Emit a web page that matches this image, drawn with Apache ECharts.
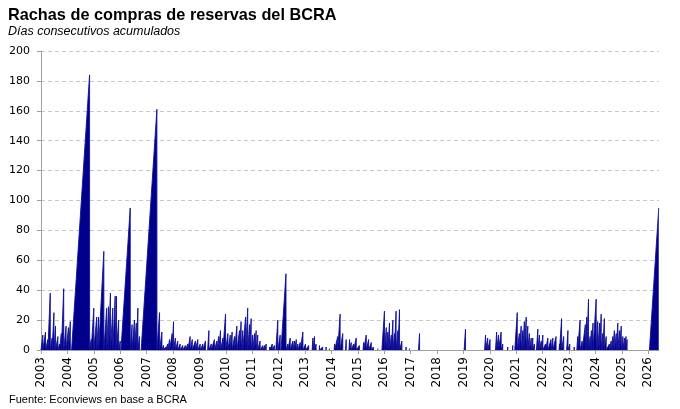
<!DOCTYPE html>
<html>
<head>
<meta charset="utf-8">
<title>Rachas de compras de reservas del BCRA</title>
<script src="https://cdn.jsdelivr.net/npm/echarts@6/dist/echarts.min.js"></script>
<style>
    html, body { margin: 0; padding: 0; background: #fff; }
    #grafico { width: 680px; height: 409px; }
</style>
</head>
<body>
<div id="grafico"></div>
<script>
// Fin de cada racha (año decimal) y días consecutivos acumulados al cortarse
var finRacha = [
    2003.07, 2003.17, 2003.26, 2003.35, 2003.42, 2003.49, 2003.55, 2003.64, 2003.70, 2003.77,
    2003.86, 2003.95, 2004.04, 2004.11, 2004.84, 2004.90, 2005.00, 2005.11, 2005.18, 2005.38,
    2005.49, 2005.56, 2005.63, 2005.72, 2005.81, 2005.86, 2005.94, 2006.00, 2006.38, 2006.45,
    2006.54, 2006.61, 2006.67, 2006.73, 2007.39, 2007.49, 2007.58, 2007.64, 2007.72, 2007.80,
    2007.87, 2007.97, 2008.02, 2008.09, 2008.18, 2008.27, 2008.37, 2008.47, 2008.56, 2008.65,
    2008.73, 2008.85, 2008.94, 2009.03, 2009.13, 2009.23, 2009.36, 2009.45, 2009.57, 2009.66,
    2009.73, 2009.80, 2009.89, 2009.99, 2010.08, 2010.17, 2010.24, 2010.33, 2010.42, 2010.52,
    2010.58, 2010.64, 2010.75, 2010.83, 2010.90, 2010.96, 2011.02, 2011.09, 2011.15, 2011.21,
    2011.30, 2011.40, 2011.47, 2011.53, 2011.66, 2011.76, 2011.84, 2011.97, 2012.06, 2012.28,
    2012.35, 2012.44, 2012.54, 2012.60, 2012.67, 2012.73, 2012.82, 2012.92, 2013.02, 2013.14,
    2013.30, 2013.36, 2013.42, 2013.55, 2013.67, 2013.80, 2013.93, 2014.12, 2014.24, 2014.33,
    2014.43, 2014.56, 2014.69, 2014.75, 2014.84, 2014.94, 2015.06, 2015.22, 2015.32, 2015.41,
    2015.51, 2015.59, 2015.76, 2016.01, 2016.08, 2016.14, 2016.20, 2016.27, 2016.33, 2016.39,
    2016.45, 2016.52, 2016.58, 2016.67, 2016.83, 2016.96, 2017.34, 2019.08, 2019.84, 2019.92,
    2020.01, 2020.26, 2020.33, 2020.43, 2020.49, 2020.68, 2020.87, 2021.04, 2021.12, 2021.19,
    2021.25, 2021.31, 2021.38, 2021.44, 2021.50, 2021.57, 2021.63, 2021.69, 2021.82, 2021.88,
    2021.95, 2022.01, 2022.11, 2022.20, 2022.32, 2022.39, 2022.51, 2022.64, 2022.72, 2022.80,
    2022.96, 2023.03, 2023.20, 2023.33, 2023.42, 2023.50, 2023.62, 2023.67, 2023.74, 2023.80,
    2023.85, 2023.91, 2024.03, 2024.09, 2024.16, 2024.22, 2024.28, 2024.34, 2024.41, 2024.53,
    2024.60, 2024.66, 2024.72, 2024.79, 2024.85, 2024.91, 2024.98, 2025.04, 2025.10, 2025.16,
    2025.20, 2026.40
];
var diasRacha = [
    10, 12, 7, 38, 8, 25, 16, 9, 4, 11,
    41, 16, 15, 19, 184, 7, 28, 22, 22, 66,
    28, 29, 38, 28, 36, 36, 20, 6, 95, 17,
    20, 18, 28, 9, 161, 25, 12, 3, 2, 4,
    7, 11, 19, 8, 6, 4, 3, 3, 4, 9,
    7, 6, 7, 4, 4, 6, 13, 4, 7, 6,
    9, 13, 8, 24, 11, 10, 12, 9, 16, 13,
    19, 13, 22, 28, 17, 21, 10, 11, 13, 10,
    6, 3, 3, 4, 2, 4, 3, 20, 10, 51,
    4, 8, 6, 6, 7, 4, 5, 12, 4, 3,
    8, 9, 4, 3, 2, 2, 1, 4, 9, 24,
    11, 7, 7, 5, 4, 8, 3, 5, 10, 7,
    5, 2, 1, 26, 15, 12, 18, 10, 20, 11,
    26, 13, 27, 6, 2, 1, 11, 14, 10, 8,
    7, 12, 10, 12, 4, 2, 3, 25, 11, 16,
    13, 19, 22, 16, 11, 8, 8, 4, 14, 10,
    6, 10, 4, 8, 7, 8, 9, 4, 21, 9,
    13, 4, 2, 9, 20, 6, 17, 22, 34, 9,
    13, 18, 34, 19, 18, 24, 11, 21, 9, 4,
    6, 9, 13, 11, 18, 13, 16, 9, 8, 9,
    7, 95
];
var anios = [];
for (var a = 2003; a <= 2026; a++) { anios.push(a); }

var DIAS_HABILES = 270; // días de racha por año en la escala del gráfico
var HUECO = 0.12;       // si la racha anterior terminó hace menos, se pegan

// cada racha: arranca en 0, sube hasta su largo y se corta
var datos = [];
var finPrevio = 2003;
for (var i = 0; i < finRacha.length; i++) {
    var fin = finRacha[i];
    var ini = fin - diasRacha[i] / DIAS_HABILES;
    if (ini < finPrevio || fin - finPrevio < HUECO) {
        ini = finPrevio;
    }
    datos.push([ini, 0]);
    datos.push([fin, diasRacha[i]]);
    if (i < finRacha.length - 1) {
        datos.push([fin + 0.002, 0]);
        datos.push(null);
    }
    finPrevio = fin + 0.002;
}

var chart = echarts.init(document.getElementById('grafico'));

var option = {
    animation: false,
    title: [
        {
            text: 'Rachas de compras de reservas del BCRA',
            left: 3,
            top: 3,
            textStyle: { fontFamily: 'Liberation Sans', fontSize: 16.3, fontWeight: 'bold', color: '#000' }
        },
        {
            text: 'Días consecutivos acumulados',
            left: 3,
            top: 20,
            textStyle: { fontFamily: 'Liberation Sans', fontSize: 12.5, fontStyle: 'italic', fontWeight: 'normal', color: '#000' }
        },
        {
            text: 'Fuente: Econviews en base a BCRA',
            left: 4,
            top: 389,
            textStyle: { fontFamily: 'Liberation Sans', fontSize: 11, fontWeight: 'normal', color: '#000' }
        }
    ],
    grid: { left: 41, right: 21, top: 51, bottom: 59 },
    xAxis: {
        type: 'value',
        min: 2003,
        max: 2026.41,
        interval: 1,
        axisLine: { lineStyle: { color: '#a0a0a0' } },
        axisTick: { show: true, length: 4, customValues: anios, lineStyle: { color: '#a0a0a0' } },
        axisLabel: {
            customValues: anios,
            rotate: 90,
            margin: 7,
            fontFamily: 'DejaVu Sans',
            fontSize: 12,
            color: '#000',
            formatter: function (v) { return String(Math.round(v)); }
        },
        splitLine: { show: false }
    },
    yAxis: {
        type: 'value',
        min: 0,
        max: 200,
        interval: 20,
        axisLine: { show: true, lineStyle: { color: '#a0a0a0' } },
        axisTick: { show: true, length: 4, lineStyle: { color: '#a0a0a0' } },
        axisLabel: { margin: 11, fontFamily: 'DejaVu Sans', fontSize: 11, color: '#000' },
        splitLine: { lineStyle: { type: [4, 3], color: '#c8c8c8' } }
    },
    series: [
        {
            name: 'Racha',
            type: 'line',
            data: datos,
            showSymbol: false,
            connectNulls: false,
            lineStyle: { width: 0.9, color: '#10109a' },
            areaStyle: { color: '#00008b', opacity: 1 },
            z: 3
        }
    ]
};
chart.setOption(option);
</script>
</body>
</html>
